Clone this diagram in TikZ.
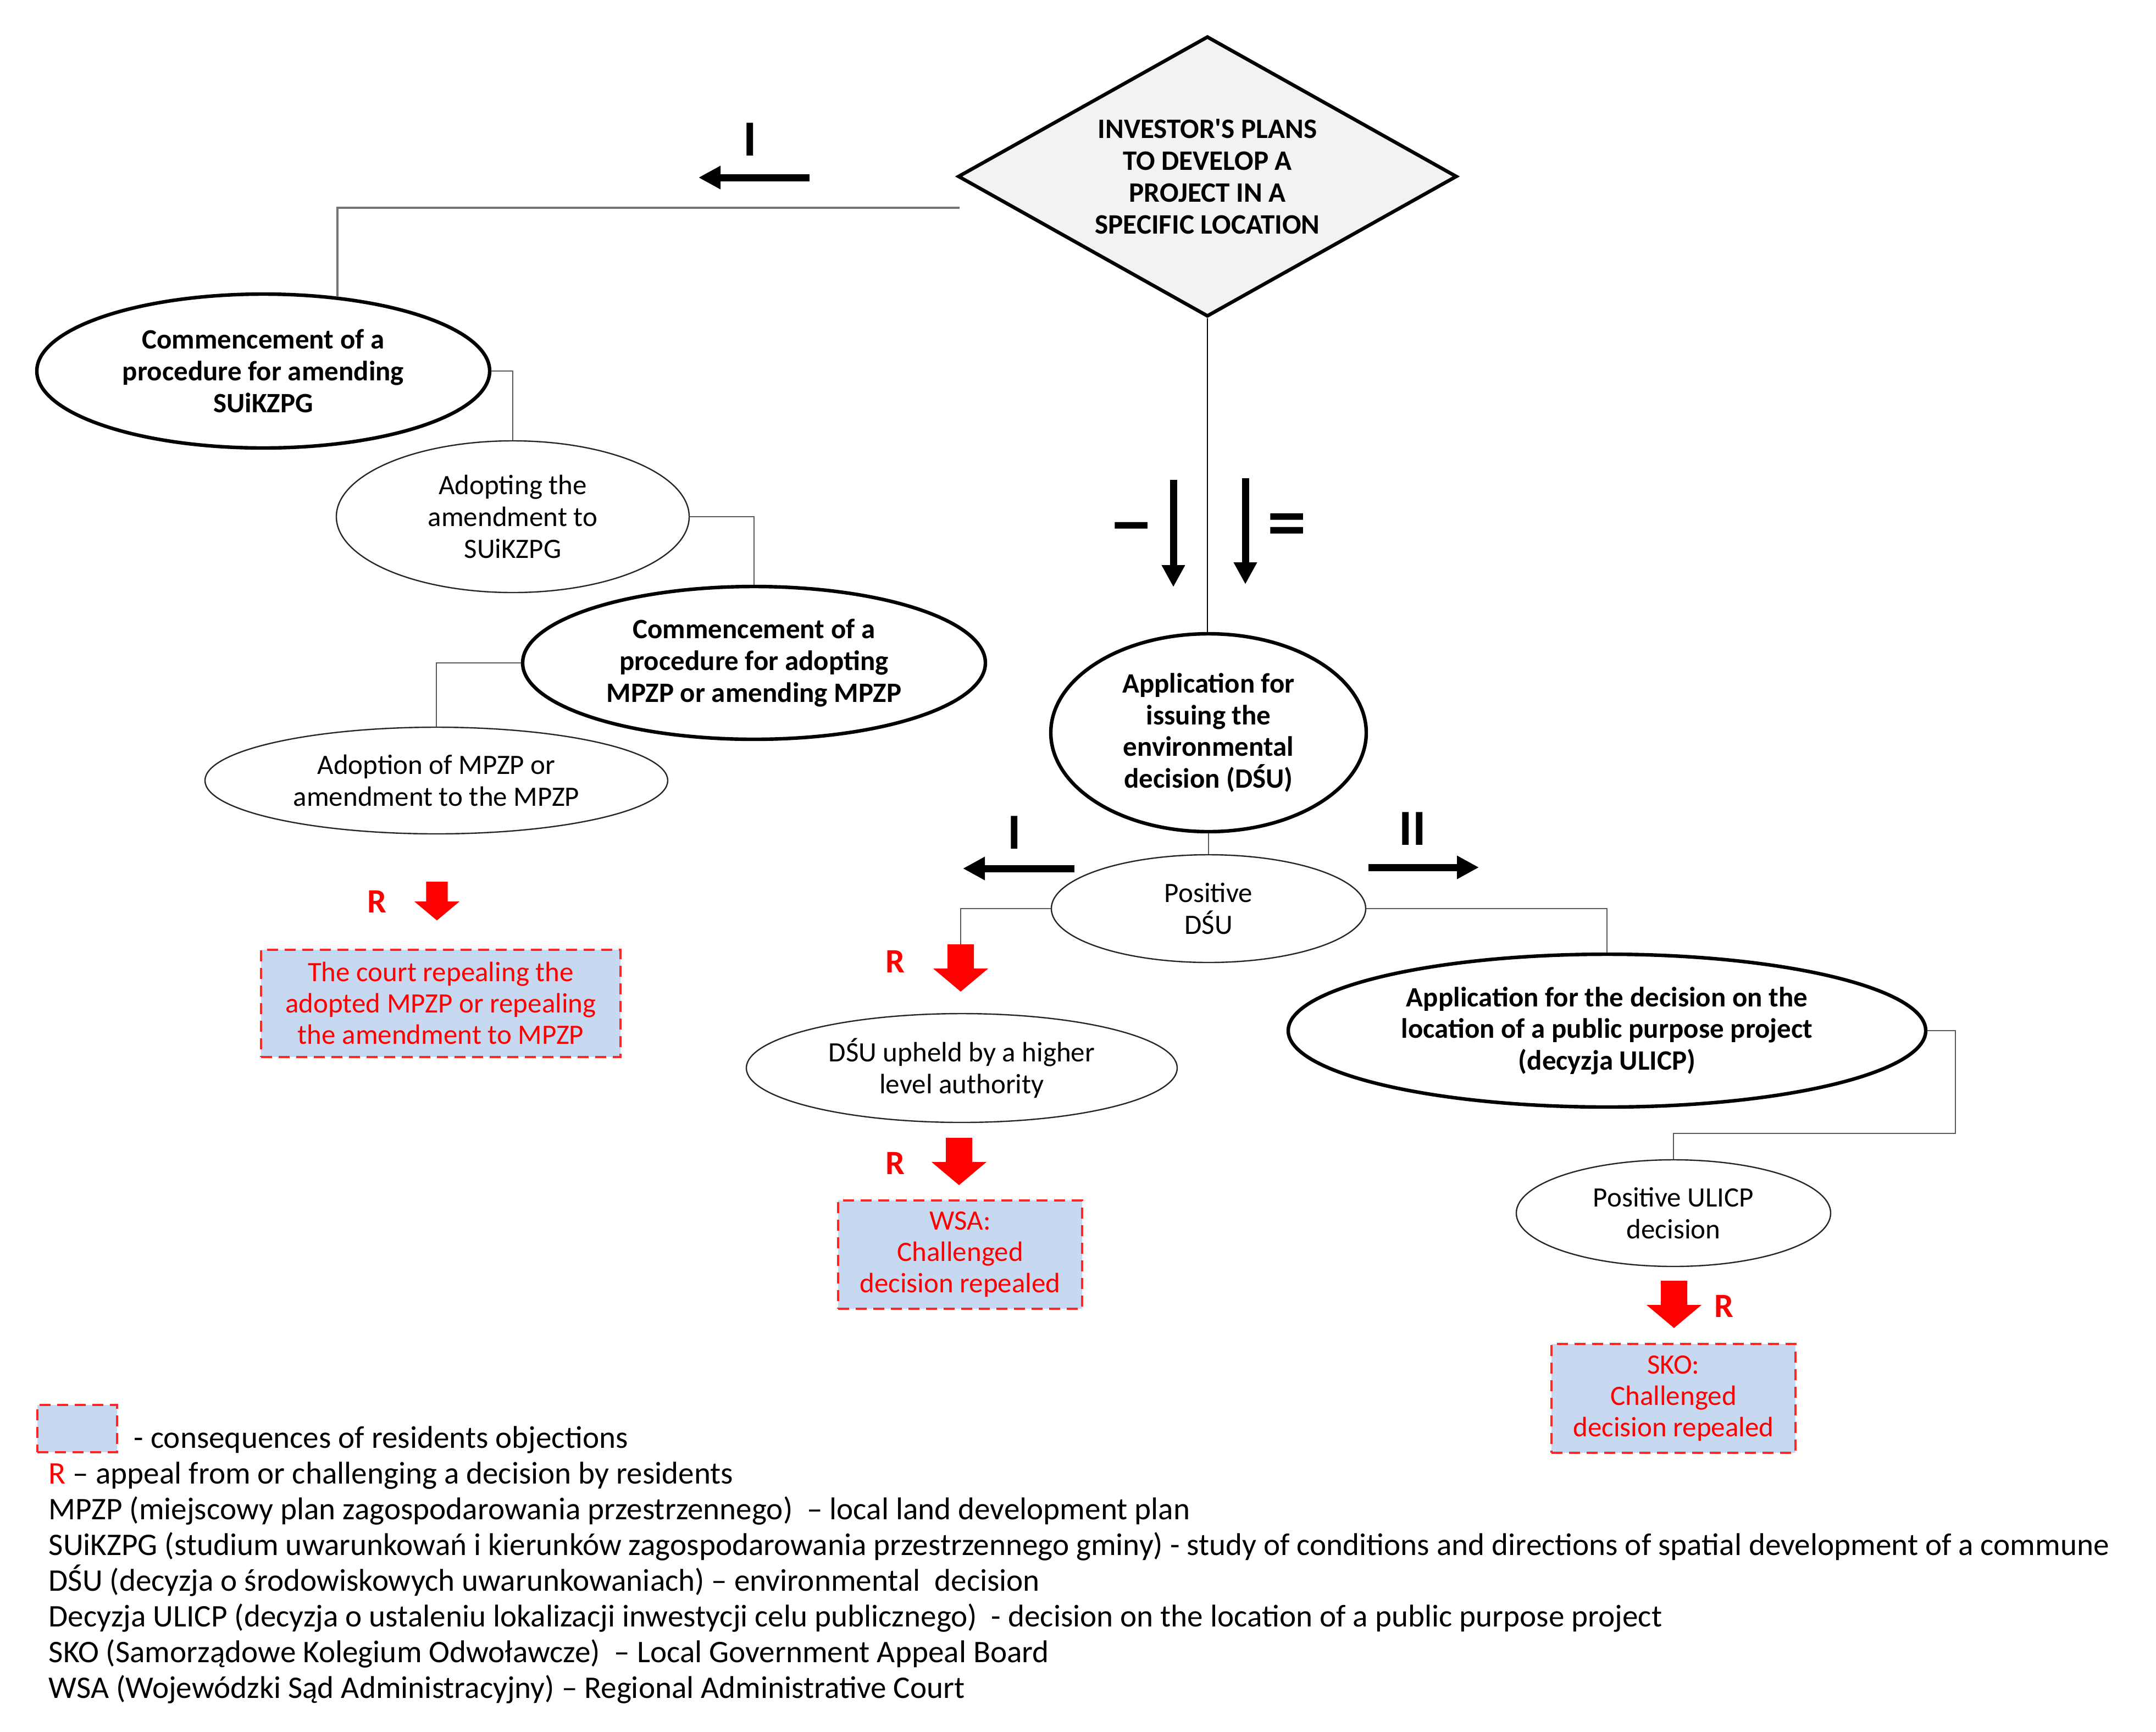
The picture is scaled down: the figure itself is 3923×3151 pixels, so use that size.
\documentclass[tikz,border=0pt]{standalone}
\usepackage{fontspec}
\setmainfont{Carlito}
\newfontfamily\carlitoplain{Carlito}
\usetikzlibrary{shapes.geometric,arrows.meta}
\definecolor{boxblue}{RGB}{198,217,241}
\definecolor{diafill}{RGB}{242,242,242}
\definecolor{lineg}{RGB}{90,90,90}
\begin{document}
\begin{tikzpicture}[x=0.25pt,y=-0.25pt,
  conn/.style={draw=lineg, line width=0.7pt},
  dia/.style={diamond, aspect=1.78, draw=black, line width=1.6pt, fill=diafill, inner sep=0pt, align=center,
    minimum width=227pt, minimum height=127.5pt, font=\fontsize{12.8}{14.5}\selectfont\bfseries},
  boldell/.style={ellipse, draw=black, line width=1.6pt, inner sep=0pt, align=center, font=\fontsize{12.75}{14.4}\selectfont\bfseries},
  thinell/.style={ellipse, draw=black!85, line width=0.6pt, inner sep=0pt, align=center, font=\fontsize{12.75}{14.4}\selectfont},
  consbox/.style={draw=red!85, dash pattern=on 5pt off 3pt, line width=1pt, fill=boxblue, text=red, align=center, inner sep=0pt, font=\fontsize{12.75}{14.2}\selectfont},
  blackarr/.style={line width=3.25pt, -{Triangle[length=10pt,width=10pt]}},
  roman/.style={font=\fontsize{23}{23}\selectfont\bfseries, inner sep=0pt},
  rlabel/.style={font=\fontsize{15.5}{15.5}\selectfont\bfseries, text=red, inner sep=0pt},
  legend/.style={font=\fontsize{14.3}{16}\selectfont, anchor=base west, inner sep=0pt},
  redarrow/.pic={\fill[red] (-24,0) -- (24,0) -- (24,44) -- (50,44) -- (0,86) -- (-50,44) -- (-24,44) -- cycle;}
]
\useasboundingbox (0,0) rectangle (3923,3151);

% main decision node
\node[dia] (dia) at (2197,321) {INVESTOR{\carlitoplain\bfseries '}S PLANS\\TO DEVELOP A\\PROJECT IN A\\SPECIFIC LOCATION};

% left branch (I)
\node[boldell, minimum width=206pt, minimum height=70pt] (e1) at (479,675) {Commencement of a\\procedure for amending\\SUiKZPG};
\node[thinell, minimum width=160.5pt, minimum height=69pt] (e2) at (933,940) {Adopting the\\amendment to\\SUiKZPG};
\node[boldell, minimum width=210.5pt, minimum height=69.5pt] (e3) at (1372,1206) {Commencement of a\\procedure for adopting\\MPZP or amending MPZP};
\node[thinell, minimum width=210.5pt, minimum height=48.5pt] (e4) at (794,1420) {Adoption of MPZP or\\amendment to the MPZP};
\node[consbox, minimum width=163.5pt, minimum height=48.75pt] (b1) at (802,1825) {The court repealing the\\adopted MPZP or repealing\\the amendment to MPZP};

\coordinate (tl) at (1746,378);
\draw[conn, draw=black!55, line width=1pt] (tl) -| (e1.45);
\draw[conn] (e1.east) -| (e2.north);
\draw[conn] (e2.east) -| (e3.north);
\draw[conn] (e3.west) -| (e4.north);

% right branch
\node[boldell, minimum width=143.5pt, minimum height=90pt] (e5) at (2199,1333) {Application for\\issuing the\\environmental\\decision (DŚU)};
\node[thinell, minimum width=143pt, minimum height=49pt] (e6) at (2199,1653) {Positive\\DŚU};
\node[thinell, minimum width=196pt, minimum height=49.5pt] (e7) at (1750,1943) {DŚU upheld by a higher\\level authority};
\node[consbox, minimum width=111pt, minimum height=49.25pt] (b2) at (1747,2282) {WSA:\\Challenged\\decision repealed};
\node[boldell, minimum width=290pt, minimum height=69.5pt] (e8) at (2924,1875) {Application for the decision on the\\location of a public purpose project\\(decyzja ULICP)};
\node[thinell, minimum width=143pt, minimum height=48.5pt] (e9) at (3045,2207) {Positive ULICP\\decision};
\node[consbox, minimum width=111pt, minimum height=49.5pt] (b3) at (3045,2544) {SKO:\\Challenged\\decision repealed};

\draw[line width=0.6pt] (dia.south) -- (dia.south |- e5.north);
\draw[conn] (e5.south) -- (e6.north);
\coordinate (a2top) at (1748,1718);
\draw[conn] (e6.west) -| (a2top);
\draw[conn] (e6.east) -| (e8.north);
\coordinate (c8) at (3558,2062);
\draw[conn] (e8.east) -| (c8) -| (e9.north);

% black direction arrows and roman labels
\draw[blackarr] (1473,323) -- (1271,323);
\node[roman] (r1) at (1365,254) {I};
\draw[blackarr] (2135,873) -- (2135,1068);
\draw[blackarr] (2266,870) -- (2266,1063);
\node[roman, rotate=90] (r2) at (2059,956) {I};
\node[roman, rotate=90] (r3) at (2342,953) {II};
\draw[blackarr] (1955,1580) -- (1752,1580);
\draw[blackarr] (2490,1578) -- (2691,1578);
\node[roman] (r4) at (1846,1515) {I};
\node[roman] (r5) at (2570,1508) {II};

% red appeal arrows
\pic[scale=0.82] at (795,1604) {redarrow};
\node[rlabel] (R1) at (686,1640) {R};
\pic at (a2top) {redarrow};
\node[rlabel] (R2) at (1629,1749) {R};
\pic at (1745,2070) {redarrow};
\node[rlabel] (R3) at (1629,2116) {R};
\pic at (3046,2330) {redarrow};
\node[rlabel] (R4) at (3137,2376) {R};

% legend
\node[consbox, minimum width=36.25pt, minimum height=21.5pt] (lg) at (140,2599) {};
\node[legend] (l1) at (243,2634) {- consequences of residents objections};
\node[legend] (l2) at (88,2699) {\textcolor{red}{R} – appeal from or challenging a decision by residents};
\node[legend] (l3) at (88,2764) {MPZP (miejscowy plan zagospodarowania przestrzennego)\ \ – local land development plan};
\node[legend] (l4) at (88,2829) {SUiKZPG (studium uwarunkowań i kierunków zagospodarowania przestrzennego gminy) - study of conditions and directions of spatial development of a commune};
\node[legend] (l5) at (88,2894) {DŚU (decyzja o środowiskowych uwarunkowaniach) – environmental\ \ decision};
\node[legend] (l6) at (88,2959) {Decyzja ULICP (decyzja o ustaleniu lokalizacji inwestycji celu publicznego)\ \ - decision on the location of a public purpose project};
\node[legend] (l7) at (88,3024) {SKO (Samorządowe Kolegium Odwoławcze)\ \ – Local Government Appeal Board};
\node[legend] (l8) at (88,3089) {WSA (Wojewódzki Sąd Administracyjny) – Regional Administrative Court};
\end{tikzpicture}
\end{document}
